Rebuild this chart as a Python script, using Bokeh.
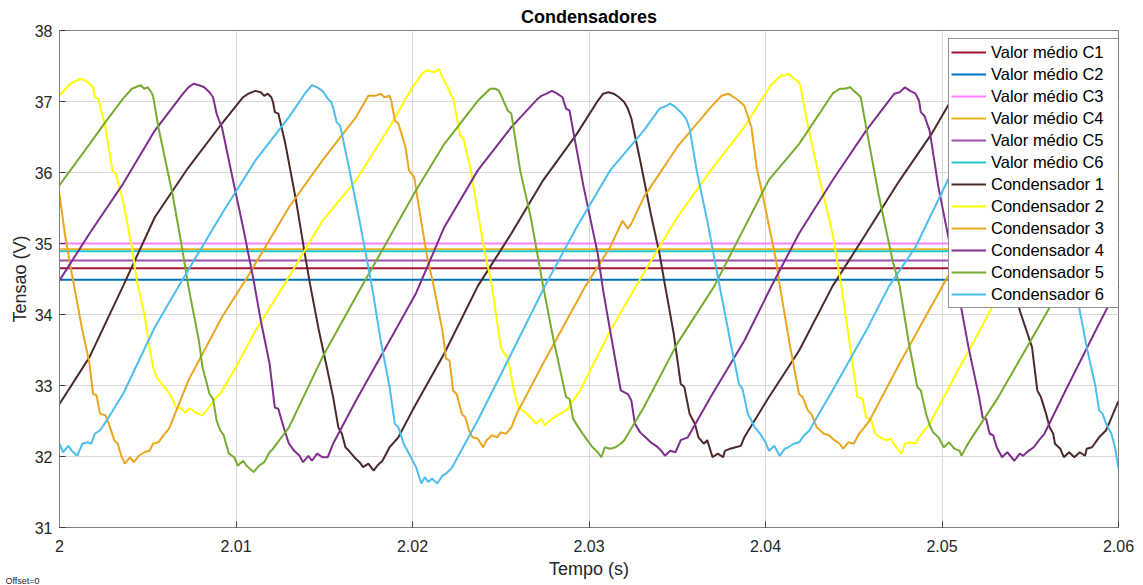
from bokeh.plotting import figure
from bokeh.models import (FixedTicker, Legend, LegendItem, Title, Range1d)
from bokeh.embed import file_html
from bokeh.resources import INLINE

# ---------------- data (time in s, voltage in V) ----------------
x_ticks = [2.0, 2.01, 2.02, 2.03, 2.04, 2.05, 2.06]
x_tick_labels = ["2", "2.01", "2.02", "2.03", "2.04", "2.05", "2.06"]
y_ticks = [31, 32, 33, 34, 35, 36, 37, 38]

mean_labels = ["Valor médio C1", "Valor médio C2", "Valor médio C3",
               "Valor médio C4", "Valor médio C5", "Valor médio C6"]
mean_values = [34.65, 34.49, 35.00, 34.92, 34.76, 34.89]

cap_labels = ["Condensador 1", "Condensador 2", "Condensador 3",
              "Condensador 4", "Condensador 5", "Condensador 6"]

c1_pts = [(2.0000, 32.74), (2.0017, 33.40), (2.0036, 34.40), (2.0054, 35.37), (2.0073, 36.07), (2.0092, 36.69),
          (2.0104, 37.06), (2.0107, 37.11), (2.0111, 37.15), (2.0114, 37.13), (2.0116, 37.08), (2.0118, 37.11),
          (2.0120, 37.06), (2.0121, 36.99), (2.0122, 36.85), (2.0124, 36.83), (2.0128, 36.40), (2.0134, 35.61),
          (2.0139, 34.85), (2.0142, 34.42), (2.0147, 33.77), (2.0151, 33.31), (2.0155, 32.84), (2.0158, 32.41),
          (2.0160, 32.32), (2.0162, 32.13), (2.0164, 32.08), (2.0167, 31.99), (2.0170, 31.92), (2.0172, 31.85),
          (2.0175, 31.90), (2.0178, 31.80), (2.0180, 31.87), (2.0183, 31.94), (2.0187, 32.13), (2.0192, 32.27),
          (2.0200, 32.65), (2.0218, 33.45), (2.0237, 34.40), (2.0256, 35.14), (2.0274, 35.89), (2.0293, 36.54),
          (2.0305, 37.01), (2.0308, 37.11), (2.0311, 37.13), (2.0314, 37.11), (2.0317, 37.06), (2.0320, 36.99),
          (2.0322, 36.90), (2.0324, 36.76), (2.0329, 36.17), (2.0335, 35.42), (2.0340, 34.85), (2.0343, 34.42),
          (2.0348, 33.73), (2.0352, 33.02), (2.0354, 32.98), (2.0357, 32.60), (2.0360, 32.46), (2.0362, 32.27),
          (2.0365, 32.18), (2.0367, 32.23), (2.0370, 31.99), (2.0373, 32.04), (2.0376, 31.99), (2.0377, 32.08),
          (2.0380, 32.11), (2.0383, 32.13), (2.0386, 32.15), (2.0388, 32.27), (2.0401, 32.80), (2.0419, 33.49),
          (2.0438, 34.40), (2.0457, 35.14), (2.0476, 35.89), (2.0494, 36.54), (2.0505, 37.01), (2.0511, 37.13),
          (2.0519, 37.05), (2.0525, 36.80), (2.0533, 35.60), (2.0544, 34.06), (2.0551, 33.54), (2.0554, 32.93),
          (2.0556, 32.84), (2.0559, 32.60), (2.0561, 32.41), (2.0563, 32.32), (2.0564, 32.18), (2.0567, 32.11),
          (2.0569, 31.99), (2.0572, 32.06), (2.0575, 31.99), (2.0578, 32.06), (2.0581, 32.01), (2.0582, 32.11),
          (2.0585, 32.13), (2.0589, 32.27), (2.0593, 32.37), (2.0600, 32.78)]

c2_pts = [(2.0000, 37.08), (2.0006, 37.25), (2.0012, 37.32), (2.0015, 37.29), (2.0017, 37.25), (2.0019, 37.20),
          (2.0020, 37.06), (2.0022, 37.04), (2.0026, 36.64), (2.0030, 36.03), (2.0032, 35.98), (2.0036, 35.60),
          (2.0041, 34.95), (2.0044, 34.45), (2.0048, 34.01), (2.0051, 33.54), (2.0053, 33.26), (2.0055, 33.12),
          (2.0058, 33.02), (2.0061, 32.93), (2.0064, 32.81), (2.0066, 32.69), (2.0069, 32.68), (2.0071, 32.62),
          (2.0074, 32.68), (2.0077, 32.62), (2.0081, 32.58), (2.0084, 32.67), (2.0086, 32.74), (2.0088, 32.81),
          (2.0091, 32.88), (2.0100, 33.26), (2.0111, 33.77), (2.0130, 34.53), (2.0149, 35.32), (2.0168, 35.89),
          (2.0187, 36.64), (2.0200, 37.20), (2.0206, 37.41), (2.0209, 37.44), (2.0212, 37.41), (2.0215, 37.46),
          (2.0217, 37.34), (2.0220, 37.20), (2.0222, 37.08), (2.0223, 37.06), (2.0227, 36.52), (2.0229, 36.47),
          (2.0233, 36.03), (2.0240, 35.00), (2.0245, 34.40), (2.0250, 33.54), (2.0252, 33.45), (2.0254, 33.40),
          (2.0257, 32.98), (2.0260, 32.69), (2.0264, 32.62), (2.0267, 32.55), (2.0270, 32.46), (2.0273, 32.53),
          (2.0275, 32.44), (2.0278, 32.51), (2.0282, 32.58), (2.0285, 32.62), (2.0288, 32.67), (2.0290, 32.76),
          (2.0295, 32.93), (2.0312, 33.77), (2.0329, 34.50), (2.0350, 35.37), (2.0369, 36.03), (2.0388, 36.64),
          (2.0403, 37.23), (2.0406, 37.30), (2.0409, 37.37), (2.0411, 37.37), (2.0413, 37.39), (2.0416, 37.32),
          (2.0419, 37.27), (2.0420, 37.20), (2.0423, 36.78), (2.0430, 35.98), (2.0438, 35.14), (2.0443, 34.40),
          (2.0448, 33.54), (2.0452, 32.84), (2.0455, 32.81), (2.0457, 32.55), (2.0460, 32.51), (2.0462, 32.32),
          (2.0465, 32.27), (2.0468, 32.23), (2.0471, 32.25), (2.0474, 32.13), (2.0477, 32.04), (2.0479, 32.18),
          (2.0482, 32.20), (2.0485, 32.18), (2.0487, 32.27), (2.0490, 32.37), (2.0493, 32.46), (2.0506, 33.07),
          (2.0528, 34.08), (2.0594, 36.92), (2.0600, 36.97)]

c3_pts = [(2.0000, 35.70), (2.0003, 35.14), (2.0007, 34.57), (2.0013, 33.77), (2.0017, 33.31), (2.0019, 32.88),
          (2.0021, 32.86), (2.0023, 32.60), (2.0026, 32.58), (2.0028, 32.46), (2.0031, 32.23), (2.0033, 32.18),
          (2.0035, 32.01), (2.0037, 31.90), (2.0040, 31.99), (2.0042, 31.92), (2.0045, 32.01), (2.0048, 32.06),
          (2.0051, 32.08), (2.0053, 32.18), (2.0056, 32.20), (2.0059, 32.30), (2.0062, 32.39), (2.0073, 33.07),
          (2.0092, 33.96), (2.0107, 34.55), (2.0130, 35.51), (2.0149, 36.17), (2.0168, 36.78), (2.0175, 37.08),
          (2.0179, 37.08), (2.0182, 37.11), (2.0184, 37.06), (2.0187, 37.08), (2.0188, 37.01), (2.0190, 36.73),
          (2.0192, 36.69), (2.0196, 36.36), (2.0198, 36.03), (2.0201, 35.93), (2.0203, 35.61), (2.0208, 34.85),
          (2.0212, 34.40), (2.0217, 33.77), (2.0219, 33.38), (2.0221, 33.35), (2.0223, 32.93), (2.0225, 32.88),
          (2.0228, 32.60), (2.0230, 32.55), (2.0232, 32.37), (2.0234, 32.27), (2.0237, 32.25), (2.0240, 32.13),
          (2.0242, 32.23), (2.0245, 32.30), (2.0248, 32.27), (2.0250, 32.34), (2.0253, 32.32), (2.0256, 32.41),
          (2.0259, 32.60), (2.0274, 33.31), (2.0298, 34.40), (2.0312, 34.95), (2.0319, 35.32), (2.0322, 35.21),
          (2.0324, 35.28), (2.0331, 35.65), (2.0350, 36.36), (2.0369, 36.92), (2.0375, 37.08), (2.0379, 37.11),
          (2.0382, 37.06), (2.0385, 37.01), (2.0388, 36.94), (2.0392, 36.64), (2.0395, 36.07), (2.0399, 35.61),
          (2.0406, 34.76), (2.0408, 34.42), (2.0414, 33.54), (2.0419, 32.88), (2.0421, 32.84), (2.0424, 32.65),
          (2.0426, 32.60), (2.0429, 32.41), (2.0430, 32.39), (2.0433, 32.32), (2.0436, 32.30), (2.0439, 32.23),
          (2.0442, 32.18), (2.0444, 32.11), (2.0447, 32.20), (2.0450, 32.18), (2.0453, 32.32), (2.0456, 32.41),
          (2.0459, 32.51), (2.0476, 33.31), (2.0502, 34.48), (2.0519, 35.20), (2.0539, 36.10), (2.0561, 36.80),
          (2.0576, 37.10), (2.0587, 37.00), (2.0594, 36.73), (2.0600, 35.90)]

c4_pts = [(2.0000, 34.48), (2.0017, 35.14), (2.0036, 35.84), (2.0054, 36.59), (2.0070, 37.11), (2.0073, 37.20),
          (2.0076, 37.25), (2.0079, 37.23), (2.0082, 37.20), (2.0085, 37.13), (2.0087, 37.06), (2.0089, 36.83),
          (2.0090, 36.76), (2.0092, 36.64), (2.0098, 35.93), (2.0104, 35.23), (2.0110, 34.48), (2.0114, 33.92),
          (2.0119, 33.31), (2.0122, 32.69), (2.0124, 32.67), (2.0127, 32.41), (2.0130, 32.18), (2.0133, 32.08),
          (2.0136, 32.01), (2.0138, 31.92), (2.0141, 32.01), (2.0143, 31.94), (2.0146, 32.04), (2.0149, 31.99),
          (2.0152, 31.99), (2.0155, 32.18), (2.0168, 32.79), (2.0187, 33.63), (2.0202, 34.30), (2.0218, 35.23),
          (2.0237, 36.03), (2.0256, 36.64), (2.0271, 37.04), (2.0273, 37.08), (2.0276, 37.11), (2.0279, 37.15),
          (2.0282, 37.11), (2.0285, 37.06), (2.0287, 36.90), (2.0289, 36.87), (2.0291, 36.59), (2.0297, 35.79),
          (2.0305, 34.85), (2.0308, 34.34), (2.0312, 33.77), (2.0318, 32.93), (2.0322, 32.88), (2.0324, 32.79),
          (2.0326, 32.46), (2.0329, 32.34), (2.0332, 32.27), (2.0335, 32.20), (2.0338, 32.15), (2.0341, 32.08),
          (2.0343, 32.01), (2.0346, 32.08), (2.0349, 32.06), (2.0352, 32.23), (2.0356, 32.27), (2.0369, 32.84),
          (2.0388, 33.63), (2.0403, 34.38), (2.0419, 35.14), (2.0438, 35.89), (2.0457, 36.59), (2.0473, 37.11),
          (2.0476, 37.13), (2.0479, 37.20), (2.0482, 37.15), (2.0485, 37.11), (2.0487, 37.01), (2.0488, 36.85),
          (2.0490, 36.80), (2.0493, 36.59), (2.0498, 35.79), (2.0504, 35.04), (2.0511, 34.08), (2.0515, 33.54),
          (2.0521, 32.84), (2.0523, 32.55), (2.0525, 32.53), (2.0527, 32.32), (2.0529, 32.30), (2.0531, 32.13),
          (2.0534, 31.99), (2.0537, 32.06), (2.0541, 31.94), (2.0544, 32.04), (2.0546, 32.01), (2.0549, 32.08),
          (2.0552, 32.13), (2.0555, 32.23), (2.0558, 32.32), (2.0570, 32.93), (2.0589, 33.87), (2.0600, 34.40)]

c5_pts = [(2.0000, 35.82), (2.0017, 36.40), (2.0026, 36.71), (2.0036, 37.04), (2.0041, 37.18), (2.0046, 37.23),
          (2.0048, 37.18), (2.0050, 37.20), (2.0052, 37.13), (2.0053, 37.08), (2.0056, 36.64), (2.0060, 36.17),
          (2.0064, 35.70), (2.0069, 35.00), (2.0073, 34.40), (2.0079, 33.63), (2.0081, 33.26), (2.0085, 32.88),
          (2.0087, 32.81), (2.0089, 32.51), (2.0091, 32.37), (2.0093, 32.30), (2.0096, 32.04), (2.0099, 31.99),
          (2.0101, 31.87), (2.0104, 31.94), (2.0106, 31.87), (2.0110, 31.78), (2.0113, 31.87), (2.0116, 31.92),
          (2.0119, 32.06), (2.0121, 32.11), (2.0130, 32.41), (2.0149, 33.40), (2.0170, 34.34), (2.0202, 35.75),
          (2.0218, 36.40), (2.0237, 37.01), (2.0244, 37.18), (2.0247, 37.18), (2.0249, 37.15), (2.0251, 37.04),
          (2.0254, 36.87), (2.0256, 36.83), (2.0261, 36.03), (2.0267, 35.37), (2.0274, 34.40), (2.0280, 33.63),
          (2.0287, 32.84), (2.0289, 32.81), (2.0291, 32.53), (2.0294, 32.41), (2.0297, 32.30), (2.0302, 32.13),
          (2.0305, 32.06), (2.0307, 31.99), (2.0309, 32.13), (2.0312, 32.11), (2.0315, 32.13), (2.0318, 32.18),
          (2.0320, 32.23), (2.0331, 32.69), (2.0350, 33.59), (2.0371, 34.40), (2.0402, 35.90), (2.0419, 36.40),
          (2.0438, 37.11), (2.0442, 37.18), (2.0445, 37.18), (2.0448, 37.20), (2.0450, 37.15), (2.0452, 37.11),
          (2.0454, 37.06), (2.0457, 36.64), (2.0464, 35.70), (2.0472, 34.76), (2.0476, 34.40), (2.0481, 33.63),
          (2.0486, 32.98), (2.0488, 32.93), (2.0491, 32.60), (2.0493, 32.44), (2.0495, 32.34), (2.0498, 32.27),
          (2.0501, 32.13), (2.0504, 32.20), (2.0507, 32.11), (2.0510, 32.08), (2.0511, 32.01), (2.0514, 32.15),
          (2.0517, 32.27), (2.0532, 32.84), (2.0561, 34.10), (2.0595, 35.60), (2.0600, 35.80)]

c6_pts = [(2.0000, 32.18), (2.0002, 32.06), (2.0005, 32.15), (2.0007, 32.08), (2.0010, 32.01), (2.0013, 32.18),
          (2.0016, 32.20), (2.0018, 32.18), (2.0020, 32.32), (2.0023, 32.37), (2.0026, 32.48), (2.0036, 32.88),
          (2.0054, 33.82), (2.0068, 34.42), (2.0092, 35.42), (2.0111, 36.17), (2.0130, 36.78), (2.0139, 37.11),
          (2.0143, 37.23), (2.0146, 37.20), (2.0149, 37.15), (2.0152, 37.04), (2.0154, 36.99), (2.0155, 36.92),
          (2.0157, 36.71), (2.0159, 36.66), (2.0164, 36.07), (2.0170, 35.32), (2.0177, 34.40), (2.0182, 33.63),
          (2.0187, 32.98), (2.0190, 32.46), (2.0192, 32.41), (2.0195, 32.18), (2.0198, 32.04), (2.0202, 31.85),
          (2.0205, 31.62), (2.0207, 31.71), (2.0209, 31.64), (2.0211, 31.69), (2.0214, 31.62), (2.0217, 31.73),
          (2.0219, 31.76), (2.0222, 31.83), (2.0224, 31.92), (2.0237, 32.51), (2.0256, 33.45), (2.0275, 34.40),
          (2.0293, 35.23), (2.0312, 36.03), (2.0331, 36.59), (2.0340, 36.90), (2.0344, 36.94), (2.0346, 36.97),
          (2.0349, 36.92), (2.0352, 36.85), (2.0355, 36.76), (2.0357, 36.62), (2.0361, 36.03), (2.0367, 35.32),
          (2.0374, 34.40), (2.0380, 33.63), (2.0385, 33.02), (2.0387, 32.95), (2.0390, 32.60), (2.0392, 32.51),
          (2.0394, 32.41), (2.0397, 32.32), (2.0400, 32.20), (2.0402, 32.08), (2.0405, 32.15), (2.0408, 32.01),
          (2.0411, 32.11), (2.0413, 32.13), (2.0416, 32.18), (2.0419, 32.20), (2.0422, 32.30), (2.0425, 32.37),
          (2.0427, 32.46), (2.0438, 32.93), (2.0457, 33.77), (2.0470, 34.40), (2.0485, 34.95), (2.0504, 35.93),
          (2.0525, 36.75), (2.0547, 37.10), (2.0556, 36.90), (2.0561, 36.30), (2.0570, 35.20), (2.0578, 34.06),
          (2.0582, 33.54), (2.0587, 32.98), (2.0589, 32.65), (2.0591, 32.60), (2.0593, 32.46), (2.0596, 32.32),
          (2.0598, 32.13), (2.0600, 31.83)]

mean_colors = ["#A2142F", "#0072BD", "#FF80FF", "#EDB120", "#9A4EAE", "#1FC8D8"]
cap_colors = ["#4A2A2A", "#FFFF00", "#EAA623", "#7E2F8E", "#77AC30", "#4DBEEE"]

FONT = "Liberation Sans"
TXT = "#262626"

p = figure(width=1143, height=585, output_backend="svg", toolbar_location=None,
           x_range=Range1d(2.0, 2.06), y_range=Range1d(31, 38),
           min_border_left=59, min_border_right=25, min_border_top=30, min_border_bottom=58,
           x_axis_label="Tempo (s)", y_axis_label="Tensao (V)")
p.background_fill_color = "white"
p.border_fill_color = "white"
p.outline_line_color = "#808080"
p.outline_line_width = 1

p.title.text = "Condensadores"
p.title.align = "center"
p.title.text_font = FONT
p.title.text_font_size = "18px"
p.title.text_font_style = "bold"
p.title.text_color = "black"
p.title.standoff = 7

for ax in (p.xaxis[0], p.yaxis[0]):
    ax.axis_line_color = "#808080"
    ax.major_tick_line_color = "#404040"
    ax.major_tick_in = 6
    ax.major_tick_out = 0
    ax.minor_tick_line_color = None
    ax.major_label_text_font = FONT
    ax.major_label_text_font_size = "16px"
    ax.major_label_text_color = TXT
    ax.axis_label_text_font = FONT
    ax.axis_label_text_font_size = "18px"
    ax.axis_label_text_font_style = "normal"
    ax.axis_label_text_color = TXT

p.xaxis[0].ticker = FixedTicker(ticks=x_ticks)
p.xaxis[0].major_label_overrides = dict(zip(x_ticks, x_tick_labels))
p.xaxis[0].major_label_standoff = 12
p.xaxis[0].axis_label_standoff = 4
p.yaxis[0].ticker = FixedTicker(ticks=y_ticks)
p.yaxis[0].major_label_standoff = 7
p.yaxis[0].axis_label_standoff = 2

p.xgrid.ticker = FixedTicker(ticks=x_ticks)
p.ygrid.ticker = FixedTicker(ticks=y_ticks)
p.xgrid.grid_line_color = "#D9D9D9"
p.ygrid.grid_line_color = "#D9D9D9"
p.xgrid.grid_line_width = 1
p.ygrid.grid_line_width = 1

items = []
for lab, val, col in zip(mean_labels, mean_values, mean_colors):
    r = p.line([x_ticks[0], x_ticks[-1]], [val, val], line_color=col, line_width=2)
    items.append(LegendItem(label=lab, renderers=[r]))

for lab, pts, col in zip(cap_labels, [c1_pts, c2_pts, c3_pts, c4_pts, c5_pts, c6_pts], cap_colors):
    ts = [a for a, b in pts]
    vs = [b for a, b in pts]
    r = p.line(ts, vs, line_color=col, line_width=2)
    items.append(LegendItem(label=lab, renderers=[r]))

legend = Legend(items=items, location=(889, 219))
legend.label_text_font = FONT
legend.label_text_font_size = "16.5px"
legend.label_text_color = "black"
legend.label_height = 22
legend.label_width = 125
legend.glyph_height = 22
legend.glyph_width = 35
legend.label_standoff = 5
legend.spacing = 0
legend.padding = 2
legend.margin = 0
legend.border_line_color = "#262626"
legend.border_line_width = 1
legend.background_fill_color = "white"
legend.background_fill_alpha = 1
p.add_layout(legend, "center")

# small caption at the bottom-left corner; negative standoff keeps it from taking panel space
caption = Title(text="Offset=0", align="left", vertical_align="top", offset=-54, standoff=-11,
                text_font=FONT, text_font_size="9px", text_font_style="normal", text_color=TXT)
p.add_layout(caption, "below")

open("out.html", "w").write(file_html(p, INLINE))
